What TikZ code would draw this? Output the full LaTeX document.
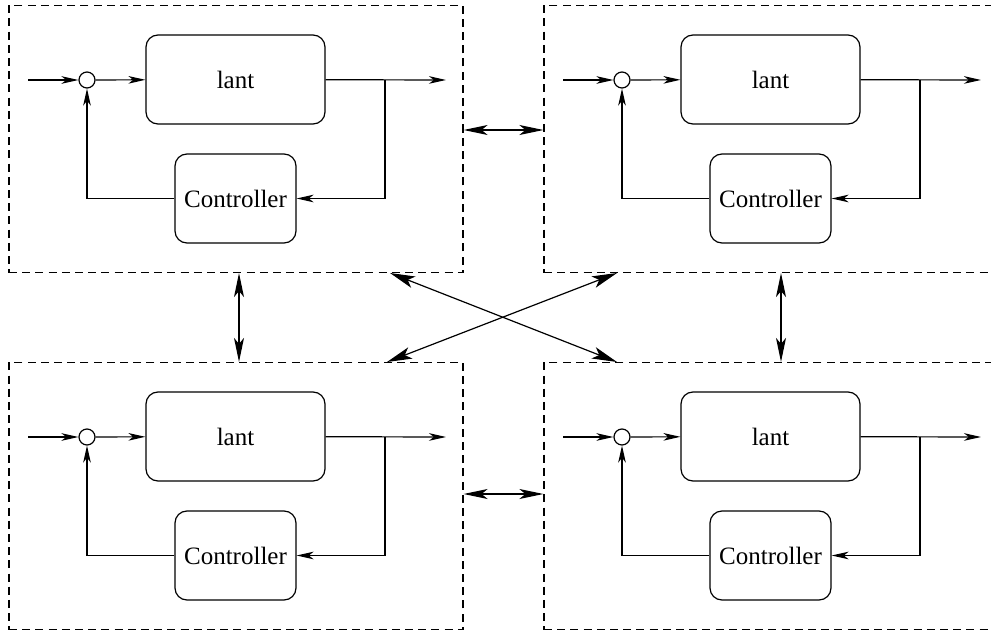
\documentclass[tikz,border=0pt]{standalone}
\usepackage{fontspec}
\setmainfont{Liberation Serif}
\usetikzlibrary{arrows.meta}
\begin{document}
\begin{tikzpicture}[x=0.5pt,y=-0.5pt,
  line width=0.6pt,
  sig/.style={-{Stealth[length=8.5pt,width=3.8pt,inset=2.4pt]}},
  link/.style={{Stealth[length=12pt,width=5pt,inset=3pt]}-{Stealth[length=12pt,width=5pt,inset=3pt]}},
  xlink/.style={{Stealth[length=12.5pt,width=6pt,inset=3pt]}-{Stealth[length=12.5pt,width=6pt,inset=3pt]}},
  block/.style={draw,rounded corners=6pt,font=\fontsize{12.5}{15}\selectfont},
  group/.style={draw,dashed,dash pattern=on 4pt off 2.6pt},
  sum/.style={draw,circle,inner sep=0pt,minimum size=8pt}]
\useasboundingbox (0,0) rectangle (991,631);

% four identical control loops
\foreach \i/\dx/\dy in {1/0/0, 2/535/0, 3/0/357, 4/535/357}{
  \begin{scope}[shift={(\dx,\dy)}]
    \node[group,minimum width=227pt,minimum height=133.5pt,inner sep=0pt] (g\i) at (236,139) {};
    \node[block,minimum width=89.5pt,minimum height=44.5pt] (p\i) at (235.5,79.5) {lant};
    \node[block,minimum width=60.5pt,minimum height=44.5pt,inner sep=1pt] (c\i) at (235.5,198.5) {Controller};
    \node[sum] (s\i) at (87,80) {};
    \coordinate (in\i) at (28,80);
    \coordinate (out\i) at (446,80);
    \coordinate (br\i) at (385,80);
    \draw[sig] (in\i) -- (s\i);
    \draw[sig] (s\i) -- (p\i);
    \draw[sig] (p\i) -- (out\i);
    \draw[sig] (br\i) |- (c\i);
    \draw[sig] (c\i) -| (s\i);
  \end{scope}
}

% communication links between the loops
\draw[link] (g1.east |- 0,130) -- (g2.west |- 0,130);
\draw[link] (g3.east |- 0,494) -- (g4.west |- 0,494);
\draw[link] (g1.south -| 239,0) -- (g3.north -| 239,0);
\draw[link] (g2.south -| 781,0) -- (g4.north -| 781,0);
\coordinate (a1) at (390,273);
\coordinate (a4) at (617,362);
\coordinate (a2) at (617,273);
\coordinate (a3) at (387,362);
\draw[xlink] (a1) -- (a4);
\draw[xlink] (a2) -- (a3);
\end{tikzpicture}
\end{document}
